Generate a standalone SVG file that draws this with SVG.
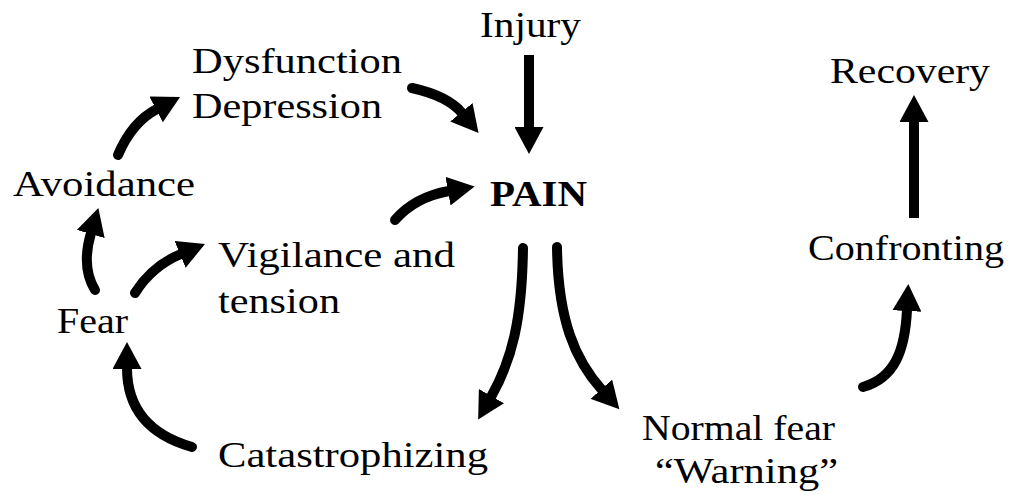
<svg xmlns="http://www.w3.org/2000/svg" width="1019" height="495" viewBox="0 0 1019 495">
  <style>
    text { font-family: "Liberation Serif", "Times New Roman", Times, "Nimbus Roman", "Nimbus Roman No9 L", "FreeSerif", "Noto Serif", "DejaVu Serif", "Tinos", serif; font-size: 36px; fill: #000; }
    .b { font-weight: bold; }
    .c { fill: none; stroke: #000; stroke-width: 10; stroke-linecap: round; marker-end: url(#ah); }
    .s { fill: none; stroke: #000; stroke-width: 10; stroke-linecap: butt; marker-end: url(#ah); }
  </style>
  <defs>
    <marker id="ah" markerUnits="userSpaceOnUse" markerWidth="27" markerHeight="29" viewBox="0 0 27 29" refX="1" refY="14.5" orient="auto">
      <path d="M0,0 L27,14.5 L0,29 Z" fill="#000"/>
    </marker>
  </defs>
  <rect width="1019" height="495" fill="#fff"/>

  <g id="connectors">
    <path class="s" d="M529,55 L529,128"/>
    <path class="s" d="M914,218 L914,121"/>
    <path class="c" d="M118,155 Q132,122 157,109"/>
    <path class="c" d="M412,88 Q448,96 462,113"/>
    <path class="c" d="M395,220 Q415,197 449,191"/>
    <path class="c" d="M95,290 C84,272 86,250 91,233"/>
    <path class="c" d="M135,293 Q152,266 181,254"/>
    <path class="c" d="M192,447 C150,435 127,410 127,368"/>
    <path class="c" d="M523,248 C522,320 512,360 491,397"/>
    <path class="c" d="M557,247 C558,320 575,360 602,390"/>
    <path class="c" d="M863,387 C895,378 905,350 907,310"/>
  </g>

  <g id="injury"><text x="480" y="37" textLength="101" lengthAdjust="spacingAndGlyphs">Injury</text></g>
  <g id="dysfunction">
    <text x="192" y="73" textLength="210" lengthAdjust="spacingAndGlyphs">Dysfunction</text>
    <text x="192" y="118" textLength="190" lengthAdjust="spacingAndGlyphs">Depression</text>
  </g>
  <g id="recovery"><text x="830" y="83" textLength="160" lengthAdjust="spacingAndGlyphs">Recovery</text></g>
  <g id="avoidance"><text x="13" y="196" textLength="182" lengthAdjust="spacingAndGlyphs">Avoidance</text></g>
  <g id="pain"><text class="b" x="490" y="206" textLength="97" lengthAdjust="spacingAndGlyphs">PAIN</text></g>
  <g id="vigilance">
    <text x="218" y="267" textLength="237" lengthAdjust="spacingAndGlyphs">Vigilance and</text>
    <text x="218" y="313" textLength="122" lengthAdjust="spacingAndGlyphs">tension</text>
  </g>
  <g id="fear"><text x="57" y="333" textLength="71" lengthAdjust="spacingAndGlyphs">Fear</text></g>
  <g id="catastrophizing"><text x="218" y="467" textLength="270" lengthAdjust="spacingAndGlyphs">Catastrophizing</text></g>
  <g id="confronting"><text x="808" y="260" textLength="196" lengthAdjust="spacingAndGlyphs">Confronting</text></g>
  <g id="normal-fear">
    <text x="642" y="440" textLength="193" lengthAdjust="spacingAndGlyphs">Normal fear</text>
    <text x="655" y="483" textLength="183" lengthAdjust="spacingAndGlyphs">“Warning”</text>
  </g>
</svg>
